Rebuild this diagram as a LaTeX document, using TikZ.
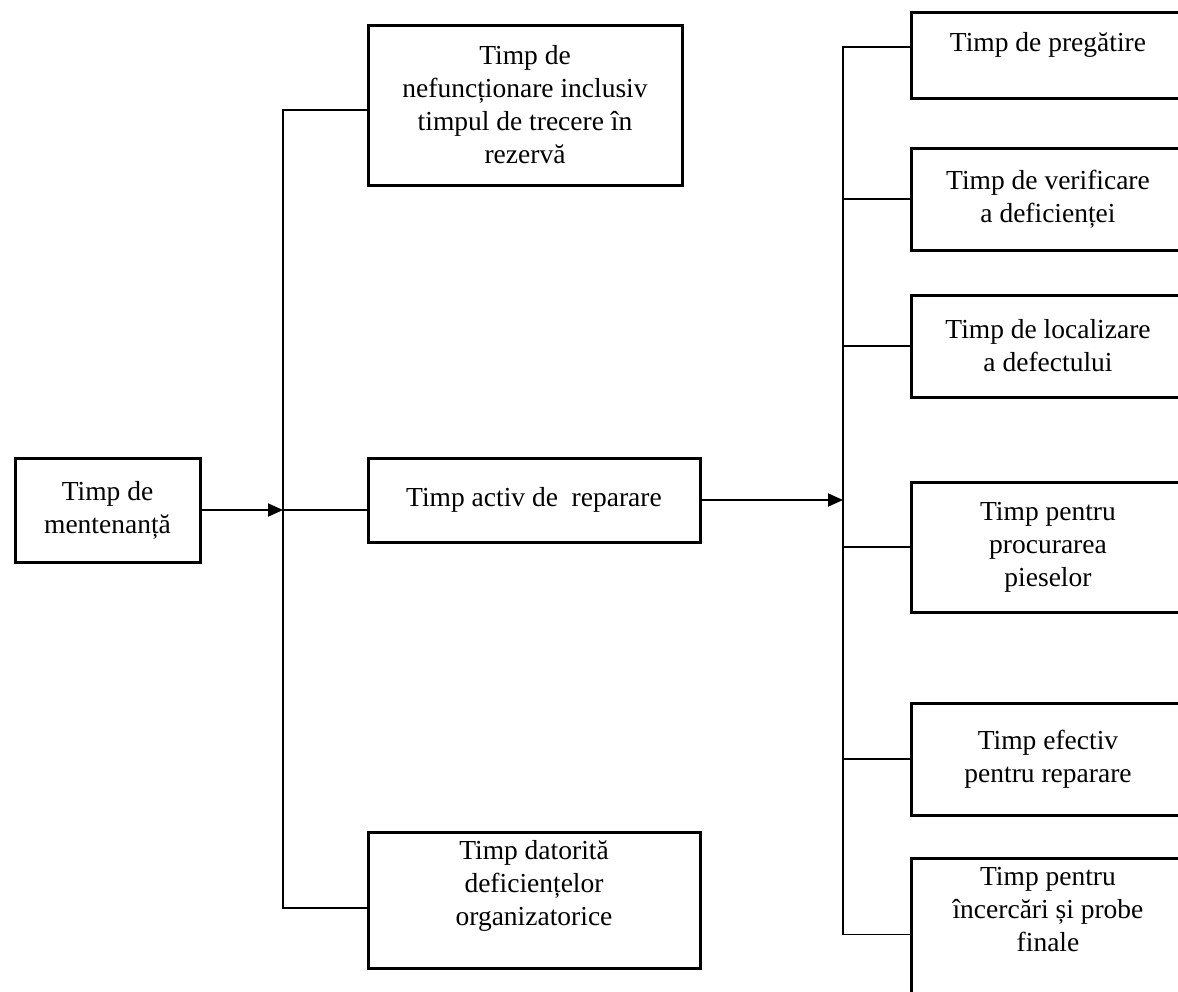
\documentclass[tikz,border=0pt]{standalone}
\usepackage{fontspec}
\setmainfont{Liberation Serif}
\usepackage{tikz}
\usetikzlibrary{arrows.meta}

\tikzset{
  box/.style={draw, line width=3pt, align=center, inner sep=0pt,
    font=\fontsize{27.5}{33}\selectfont},
  link/.style={line width=1.9pt},
  arr/.style={link, -{Triangle[length=15pt,width=13pt]}}
}

\begin{document}
\begin{tikzpicture}[x=1pt, y=-1pt]
  \useasboundingbox (0,0) rectangle (1178,991);

  % left column
  \node[box, minimum width=185pt, minimum height=104pt] (mten) at (107.5,510) {Timp de\\mentenanță};

  % middle column
  \node[box, minimum width=314pt, minimum height=160pt] (nefunc) at (525,105)
    {Timp de\\nefuncționare inclusiv\\timpul de trecere în\\rezervă};
  \node[box, minimum width=332pt, minimum height=84pt] (activ) at (534,500) {Timp activ de\ \ reparare};
  \node[box, minimum width=332pt, minimum height=136pt] (organiz) at (534,900)
    {Timp datorită\\deficiențelor\\organizatorice\\[-9pt]\strut};

  % right column, runs off the page edge
  \node[box, minimum width=274pt, minimum height=86pt] (prep) at (1048,55) {Timp de pregătire\\[-16pt]\strut};
  \node[box, minimum width=274pt, minimum height=102pt] (verif) at (1048,199) {Timp de verificare\\a deficienței};
  \node[box, minimum width=274pt, minimum height=102pt] (local) at (1048,346) {Timp de localizare\\a defectului};
  \node[box, minimum width=274pt, minimum height=130pt] (piese) at (1048,547) {Timp pentru\\procurarea\\pieselor};
  \node[box, minimum width=274pt, minimum height=112pt] (efectiv) at (1048,759) {Timp efectiv\\pentru reparare};
  \node[box, minimum width=274pt, minimum height=145pt] (probe) at (1048,930.5)
    {Timp pentru\\încercări și probe\\finale\\\strut};

  % buses
  \coordinate (busL) at (283,510);
  \coordinate (busR) at (843,500);

  \draw[arr] (mten.east) -- (busL);
  \draw[link] ([yshift=-5pt]nefunc.west) -| (busL) |- ([yshift=-8pt]organiz.west);
  \draw[link] (busL) -- (busL -| activ.west);

  \draw[arr] (activ.east) -- (busR);
  \draw[link] ([yshift=8pt]prep.west) -| (busR) |- ([yshift=-4pt]probe.west);
  \foreach \n in {verif,local,piese,efectiv}
    \draw[link] (busR |- \n.west) -- (\n.west);
\end{tikzpicture}
\end{document}
